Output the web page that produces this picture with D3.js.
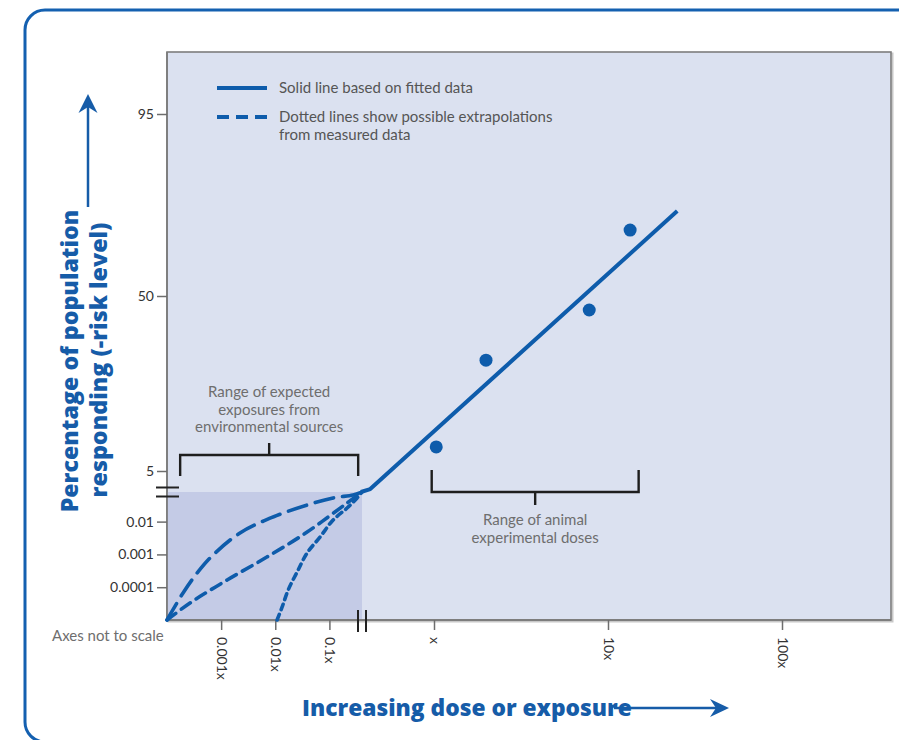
<!DOCTYPE html>
<html>
<head>
<meta charset="utf-8">
<script src="https://cdn.jsdelivr.net/npm/d3@7"></script>
<style>
  body { margin: 0; background: #ffffff; }
  svg { display: block; }
</style>
</head>
<body>
<script>
// ---------------- DATA ----------------
// Upper (measured) section: dose multiples and % responding
const pointDoses     = [1.03, 1.99, 7.8, 13.4];
const pointResponses = [11.2, 33.5, 46.4, 66.3];
const fitDoses       = [0.38, 0.43, 25];
const fitResponses   = [0, 0.7, 71];

// Lower (extrapolated) section: dose and fraction responding (log scales)
const supraDoses   = [1e-4, 1.98e-4, 3.6e-4, 7.1e-4, 2.23e-3, 9.1e-3, 0.0387, 0.117, 0.274, 0.4];
const supraResp    = [1e-5, 6.7e-5, 2.7e-4, 9.6e-4, 4.5e-3, 0.0138, 0.032, 0.0525, 0.065, 0.08];
const linearDoses  = [1e-4, 2.66e-4, 1.29e-3, 7.0e-3, 0.0387, 0.212, 0.4];
const linearResp   = [1e-5, 3.3e-5, 1.66e-4, 8.3e-4, 4.8e-3, 0.037, 0.08];
const threshDoses  = [0.0108, 0.0134, 0.0173, 0.0253, 0.0387, 0.0673, 0.117, 0.212, 0.325, 0.4];
const threshResp   = [1e-5, 2.5e-5, 8.2e-5, 2.9e-4, 1.1e-3, 3.4e-3, 0.0112, 0.026, 0.0525, 0.08];

// Tick values and labels
const yHighTicks  = [5, 50, 95];
const yHighLabels = ["5", "50", "95"];
const yLowTicks   = [0.0001, 0.001, 0.01];
const yLowLabels  = ["0.0001", "0.001", "0.01"];
const xLowTicks   = [0.001, 0.01, 0.1];
const xLowLabels  = ["0.001x", "0.01x", "0.1x"];
const xHighTicks  = [1, 10, 100];
const xHighLabels = ["x", "10x", "100x"];

// Ranges for brackets
const envRange    = [1.75e-4, 0.34];
const animalRange = [0.97, 15];

const legendLabels = [["Solid line based on fitted data"],
                      ["Dotted lines show possible extrapolations", "from measured data"]];

// ---------------- LAYOUT ----------------
const W = 899, H = 740;
const plot = { left: 167, right: 891, top: 52, bottom: 620 };
const breakX = 362, breakY = 492;
const blue = "#0e5cab";
const titleBlue = "#165ca8";

const svg = d3.select("body").append("svg").attr("width", W).attr("height", H);

// scales
const xLow  = d3.scaleLog().domain([1e-4, 0.4]).range([plot.left, breakX]);
const xHigh = d3.scaleLog().domain([1, 100]).range([434, 782]);
const yLow  = d3.scaleLog().domain([1e-5, 0.08]).range([plot.bottom, breakY]);
const yHigh = d3.scaleLinear().domain([0, 5, 50, 95]).range([breakY, 471, 296, 114]);

// outer frame
svg.append("path")
  .attr("d", `M ${W} 10 H 45 A 20 20 0 0 0 25 30 V 722 A 20 20 0 0 0 45 742`)
  .attr("fill", "none").attr("stroke", "#1460b0").attr("stroke-width", 3);

// plot background
svg.append("rect")
  .attr("x", plot.left + 1.5).attr("y", plot.top + 1.5)
  .attr("width", plot.right - plot.left).attr("height", plot.bottom - plot.top)
  .attr("fill", "none").attr("stroke", "#c8c8c8").attr("stroke-width", 2);
svg.append("rect")
  .attr("x", plot.left).attr("y", plot.top)
  .attr("width", plot.right - plot.left).attr("height", plot.bottom - plot.top)
  .attr("fill", "#dbe1f0").attr("stroke", "#7d7d7d").attr("stroke-width", 1.6);

// shaded low region
svg.append("rect")
  .attr("x", xLow.range()[0]).attr("y", yLow.range()[1])
  .attr("width", xLow.range()[1] - xLow.range()[0])
  .attr("height", yLow.range()[0] - yLow.range()[1])
  .attr("fill", "#c4cbe6");

// axis lines
svg.append("line").attr("x1", plot.left).attr("x2", plot.left)
  .attr("y1", plot.top).attr("y2", plot.bottom).attr("stroke", "#7d7d7d").attr("stroke-width", 1.8);
svg.append("line").attr("x1", plot.left).attr("x2", plot.right)
  .attr("y1", plot.bottom).attr("y2", plot.bottom).attr("stroke", "#7d7d7d").attr("stroke-width", 1.8);

// axes
function styleAxis(g) {
  g.select(".domain").remove();
  g.selectAll(".tick line").attr("stroke", "#6d6d6d").attr("stroke-width", 1.5);
  g.selectAll(".tick text").attr("fill", "#333").attr("font-family", "Lato, 'Open Sans', sans-serif")
    .attr("font-size", 14);
}
const yAxisHigh = d3.axisLeft(yHigh).tickValues(yHighTicks)
  .tickFormat((d, i) => yHighLabels[i]).tickSize(10).tickPadding(3);
const yAxisLow = d3.axisLeft(yLow).tickValues(yLowTicks)
  .tickFormat((d, i) => yLowLabels[i]).tickSize(10).tickPadding(3);
svg.append("g").attr("transform", `translate(${plot.left},0)`).call(yAxisHigh).call(styleAxis);
svg.append("g").attr("transform", `translate(${plot.left},0)`).call(yAxisLow).call(styleAxis);

function rotateX(g) {
  styleAxis(g);
  g.selectAll(".tick text")
    .attr("x", 0).attr("y", 0).attr("dy", "0.35em")
    .attr("text-anchor", "start")
    .attr("transform", "translate(0,17) rotate(90)");
}
const xAxisLow = d3.axisBottom(xLow).tickValues(xLowTicks)
  .tickFormat((d, i) => xLowLabels[i]).tickSize(10);
const xAxisHigh = d3.axisBottom(xHigh).tickValues(xHighTicks)
  .tickFormat((d, i) => xHighLabels[i]).tickSize(10);
svg.append("g").attr("transform", `translate(0,${plot.bottom})`).call(xAxisLow).call(rotateX);
svg.append("g").attr("transform", `translate(0,${plot.bottom})`).call(xAxisHigh).call(rotateX);

// axis breaks
[breakY - 4.5, breakY + 4.5].forEach(y => {
  svg.append("line").attr("x1", 156).attr("x2", 179).attr("y1", y).attr("y2", y)
    .attr("stroke", "#222").attr("stroke-width", 2);
});
[breakX - 4, breakX + 4].forEach(x => {
  svg.append("line").attr("x1", x).attr("x2", x).attr("y1", plot.bottom - 10).attr("y2", plot.bottom + 12)
    .attr("stroke", "#222").attr("stroke-width", 2);
});

// extrapolation curves
const lowLine = d3.line().x(d => xLow(d[0])).y(d => yLow(d[1])).curve(d3.curveCatmullRom.alpha(0.5));
const curves = [
  { doses: supraDoses,  resp: supraResp,  dash: "19,9" },
  { doses: linearDoses, resp: linearResp, dash: "11,7" },
  { doses: threshDoses, resp: threshResp, dash: "6,5" }
];
curves.forEach(c => {
  svg.append("path")
    .attr("d", lowLine(c.doses.map((d, i) => [d, c.resp[i]])))
    .attr("fill", "none").attr("stroke", blue).attr("stroke-width", 3.6)
    .attr("stroke-dasharray", c.dash).attr("stroke-linecap", "round");
});

// fitted line
const highLine = d3.line().x(d => xHigh(d[0])).y(d => yHigh(d[1]));
svg.append("path")
  .attr("d", highLine(fitDoses.map((d, i) => [d, fitResponses[i]])))
  .attr("fill", "none").attr("stroke", blue).attr("stroke-width", 4)
  .attr("stroke-linejoin", "round");

// data points
svg.selectAll("circle.pt").data(pointDoses.map((d, i) => [d, pointResponses[i]]))
  .join("circle").attr("class", "pt")
  .attr("cx", d => xHigh(d[0])).attr("cy", d => yHigh(d[1])).attr("r", 6.5)
  .attr("fill", blue);

// brackets
function bracket(x1, x2, yBar, yEnd, yStem) {
  const xm = (x1 + x2) / 2;
  svg.append("path")
    .attr("d", `M ${x1} ${yEnd} V ${yBar} H ${x2} V ${yEnd} M ${xm} ${yBar} V ${yStem}`)
    .attr("fill", "none").attr("stroke", "#1e1e1e").attr("stroke-width", 2.4);
  return xm;
}
const envMid = bracket(xLow(envRange[0]), xLow(envRange[1]), 455, 476, 443);
const aniMid = bracket(xHigh(animalRange[0]), xHigh(animalRange[1]), 492, 470, 505);

const annFont = "Lato, 'Open Sans', sans-serif";
function multiText(x, y0, lines, lh, size, color) {
  const t = svg.append("text").attr("text-anchor", "middle")
    .attr("font-family", annFont).attr("font-size", size).attr("fill", color);
  lines.forEach((l, i) => t.append("tspan").attr("x", x).attr("y", y0 + i * lh).text(l));
}
multiText(envMid, 397, ["Range of expected", "exposures from", "environmental sources"], 17.5, 15, "#6e6e6e");
multiText(aniMid, 525, ["Range of animal", "experimental doses"], 18, 15, "#6e6e6e");

// legend
const legY = [88, 117];
legendLabels.forEach((lines, i) => {
  svg.append("line").attr("x1", 217).attr("x2", 267).attr("y1", legY[i]).attr("y2", legY[i])
    .attr("stroke", blue).attr("stroke-width", 4)
    .attr("stroke-dasharray", i === 0 ? null : "12,7");
  const t = svg.append("text").attr("font-family", annFont).attr("font-size", 15).attr("fill", "#555");
  lines.forEach((l, j) => t.append("tspan").attr("x", 279).attr("y", legY[i] + 5 + j * 18).text(l));
});

// "Axes not to scale"
svg.append("text").attr("x", 52).attr("y", 641)
  .attr("font-family", annFont).attr("font-size", 15).attr("fill", "#6e6e6e")
  .text("Axes not to scale");

// axis titles
function fit(sel, target) {
  const w = sel.node().getComputedTextLength();
  const fs = parseFloat(sel.attr("font-size"));
  sel.attr("font-size", fs * target / w);
}
const titleFont = "'Open Sans', 'DejaVu Sans', sans-serif";
const yt1 = svg.append("text").attr("transform", "translate(78,361) rotate(-90)")
  .attr("text-anchor", "middle").attr("font-family", titleFont).attr("font-weight", 800)
  .attr("font-size", 22).attr("fill", titleBlue).text("Percentage of population");
fit(yt1, 303);
const yt2 = svg.append("text").attr("transform", "translate(107,360) rotate(-90)")
  .attr("text-anchor", "middle").attr("font-family", titleFont).attr("font-weight", 800)
  .attr("font-size", 22).attr("fill", titleBlue).text("responding (-risk level)");
fit(yt2, 275);
const xt = svg.append("text").attr("x", 302).attr("y", 716)
  .attr("font-family", titleFont).attr("font-weight", 800)
  .attr("font-size", 22).attr("fill", titleBlue).text("Increasing dose or exposure");
fit(xt, 330);

// arrows
function arrowHead(tx, ty, dir) {
  let pts;
  if (dir === "up") pts = [[tx, ty], [tx - 9.5, ty + 19], [tx, ty + 13], [tx + 9.5, ty + 19]];
  else pts = [[tx, ty], [tx - 19, ty - 9], [tx - 13, ty], [tx - 19, ty + 9]];
  svg.append("path").attr("d", "M" + pts.map(p => p.join(",")).join("L") + "Z").attr("fill", titleBlue);
}
svg.append("line").attr("x1", 88).attr("x2", 88).attr("y1", 207).attr("y2", 105)
  .attr("stroke", titleBlue).attr("stroke-width", 2.5);
arrowHead(88, 94, "up");
svg.append("line").attr("x1", 614).attr("x2", 718).attr("y1", 708).attr("y2", 708)
  .attr("stroke", titleBlue).attr("stroke-width", 2.5);
arrowHead(729, 708, "right");
</script>
</body>
</html>
